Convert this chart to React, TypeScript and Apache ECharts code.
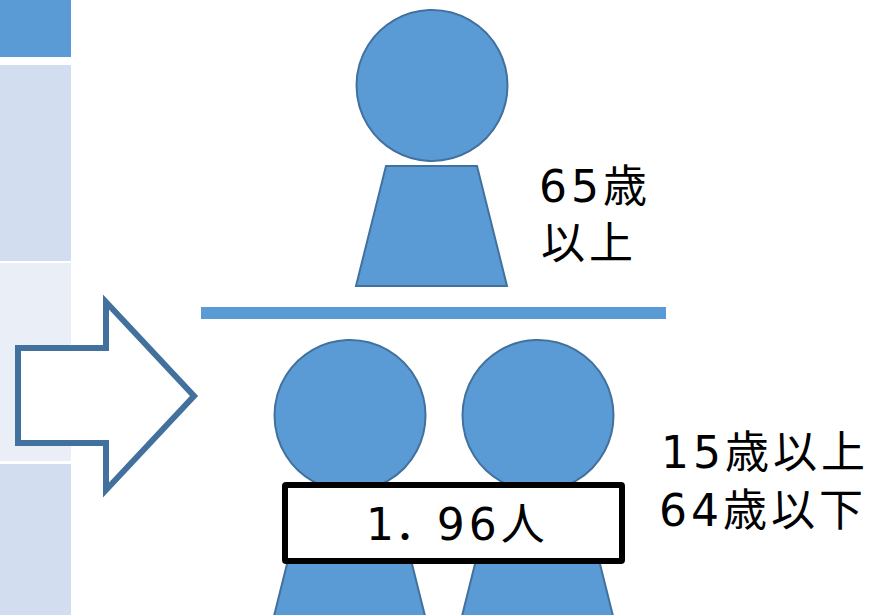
import React, { useEffect, useRef } from "react";
import * as echarts from "echarts";

// Labels for the support-ratio pictogram
const elderLabel = ["65歳", "以上"];
const workingLabel = ["15歳以上", "64歳以下"];
const ratioLabel = "1．\u200996人";

const BLUE = "#5B9BD5";
const EDGE = "#41719C";
const FONT = '"DejaVu Sans", "Noto Sans CJK JP", sans-serif';

// Proportional East Asian metrics with a little tracking for every label
const TEXT_CSS = `svg text { font-feature-settings: "palt" !important; letter-spacing: 4px; }`;

// One person: round head plus a trapezoid body, placed by its offset from the top figure
const person = (dx: number, dy: number) => [
  {
    type: "circle",
    shape: { cx: 432 + dx, cy: 85.5 + dy, r: 75.5 },
    style: { fill: BLUE, stroke: EDGE, lineWidth: 2 },
  },
  {
    type: "polygon",
    shape: {
      points: [
        [386 + dx, 166 + dy],
        [477 + dx, 166 + dy],
        [507 + dx, 286 + dy],
        [356 + dx, 286 + dy],
      ],
    },
    style: { fill: BLUE, stroke: EDGE, lineWidth: 2 },
  },
];

const label = (text: string, x: number, y: number, fontSize = 44) => ({
  type: "text",
  x,
  y,
  style: { text, fontSize, fontFamily: FONT, fill: "#000", textAlign: "left", textVerticalAlign: "middle" },
});

const band = (y: number, height: number, fill: string) => ({
  type: "rect",
  shape: { x: 0, y, width: 71, height },
  style: { fill },
});

export default function App() {
  const ref = useRef<HTMLDivElement>(null);

  useEffect(() => {
    const chart = echarts.init(ref.current!, undefined, { renderer: "svg" });
    chart.setOption({
      animation: false,
      backgroundColor: "#fff",
      graphic: {
        elements: [
          band(0, 57, BLUE),
          band(65, 196, "#D2DEEF"),
          band(263, 198, "#EAEFF7"),
          band(464, 151, "#D2DEEF"),
          {
            type: "polygon",
            shape: {
              points: [
                [18, 348],
                [106, 348],
                [106, 302],
                [194, 396],
                [106, 490],
                [106, 443],
                [18, 443],
              ],
            },
            style: { fill: "#fff", stroke: EDGE, lineWidth: 6 },
          },
          ...person(0, 0),
          {
            type: "rect",
            shape: { x: 201, y: 307, width: 465, height: 12 },
            style: { fill: BLUE },
          },
          ...person(-82, 330),
          ...person(106, 330),
          {
            type: "rect",
            shape: { x: 285, y: 485, width: 337, height: 76, r: 1 },
            style: { fill: "#fff", stroke: "#000", lineWidth: 6 },
          },
          label(elderLabel[0], 539, 186),
          label(elderLabel[1], 541, 243),
          label(workingLabel[0], 661, 452),
          label(workingLabel[1], 659, 510),
          label(ratioLabel, 366, 524),
        ],
      },
    });
    return () => chart.dispose();
  }, []);

  return (
    <>
      <style>{TEXT_CSS}</style>
      <div ref={ref} style={{ position: "fixed", left: 0, top: 0, width: 883, height: 615 }} />
    </>
  );
}
